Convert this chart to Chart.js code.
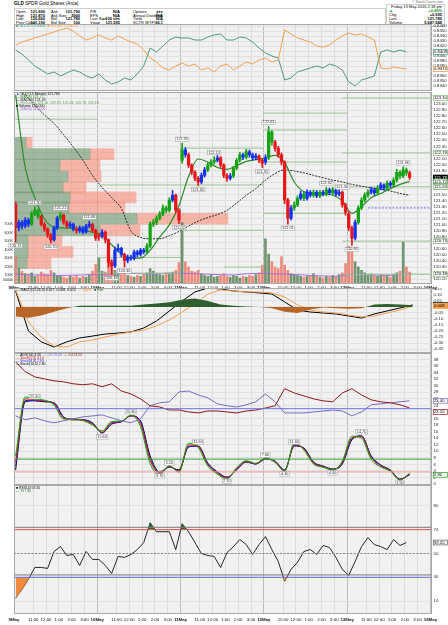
<!DOCTYPE html>
<html><head><meta charset="utf-8"><title>GLD SPDR Gold Shares</title>
<script src="https://cdn.jsdelivr.net/npm/chart.js"></script>
<style>
html,body{margin:0;padding:0;background:#fff;}
body{width:448px;height:625px;position:relative;overflow:hidden;font-family:"Liberation Sans",Arial,sans-serif;color:#000;}
canvas{position:absolute;left:0;}
.t{position:absolute;font-size:4px;line-height:4px;white-space:nowrap;}
.v{font-weight:bold;}
.box{position:absolute;border:1px solid #cfcfcf;background:#fff;}
</style></head><body>
<div class="t" style="left:14px;top:1px;font-size:4.6px;line-height:5px"><b>GLD</b> SPDR Gold Shares (Arca)</div>
<div class="box" style="left:14px;top:8px;width:370px;height:15px;"></div>
<div class="t" style="left:16px;top:9.6px">Open</div><div class="t v" style="right:403px;top:9.6px">121.690</div>
<div class="t" style="left:16px;top:13.5px">High</div><div class="t v" style="right:403px;top:13.5px">121.870</div>
<div class="t" style="left:16px;top:17.4px">Low</div><div class="t v" style="right:403px;top:17.4px">120.660</div>
<div class="t" style="left:16px;top:21.3px">Prev Close</div><div class="t v" style="right:403px;top:21.3px">121.190</div>
<div class="t" style="left:51px;top:9.6px">Ask</div><div class="t v" style="right:368px;top:9.6px">121.790</div>
<div class="t" style="left:51px;top:13.5px">Ask Size</div><div class="t v" style="right:368px;top:13.5px">3900</div>
<div class="t" style="left:51px;top:17.4px">Bid</div><div class="t v" style="right:368px;top:17.4px">121.780</div>
<div class="t" style="left:51px;top:21.3px">Bid Size</div><div class="t v" style="right:368px;top:21.3px">100</div>
<div class="t" style="left:90px;top:9.6px">P/E</div><div class="t v" style="right:328px;top:9.6px">N/A</div>
<div class="t" style="left:90px;top:13.5px">EPS</div><div class="t v" style="right:328px;top:13.5px">N/A</div>
<div class="t" style="left:90px;top:17.4px">Last Size</div><div class="t v" style="right:328px;top:17.4px"><span style="color:#1a9a1a">&#9650;</span>100 shs</div>
<div class="t" style="left:90px;top:21.3px">Vwap</div><div class="t v" style="right:328px;top:21.3px">121.595</div>
<div class="t" style="left:133px;top:9.6px">Options</div><div class="t v" style="right:285px;top:9.6px">yes</div>
<div class="t" style="left:133px;top:13.5px">Annual Dividend</div><div class="t v" style="right:285px;top:13.5px">N/A</div>
<div class="t" style="left:133px;top:17.4px">Yield</div><div class="t v" style="right:285px;top:17.4px">N/A</div>
<div class="t" style="left:133px;top:21.3px">SCTR (ETF)</div><div class="t v" style="right:285px;top:21.3px">96.1</div>
<div class="t" style="right:5px;top:0px;font-size:3.6px;color:#777">&copy; StockCharts.com</div>
<div class="box" style="left:386px;top:4px;width:57px;height:21px;"></div>
<div class="t" style="right:6px;top:5px">Friday 13 May 2016 2:18 pm</div>
<div class="t" style="left:389px;top:9.4px;color:#1a9a1a">&#9650;</div><div class="t v" style="right:6px;top:9.4px;color:#1a9a1a">+0.49%</div>
<div class="t" style="left:389px;top:13.3px">Chg</div><div class="t v" style="right:6px;top:13.3px">+0.595</div>
<div class="t" style="left:389px;top:17.2px">Last</div><div class="t v" style="right:6px;top:17.2px">121.785</div>
<div class="t" style="left:389px;top:21.1px">Volume</div><div class="t v" style="right:6px;top:21.1px">5,687,548</div>

<canvas id="cTop" width="448" height="67" style="top:24px"></canvas>
<canvas id="cMain" width="448" height="198" style="top:92px"></canvas>
<canvas id="cMacd" width="448" height="65" style="top:288px"></canvas>
<canvas id="cDmi" width="448" height="132" style="top:353px"></canvas>
<canvas id="cRsi" width="448" height="139" style="top:485px"></canvas>

<script>
// ---------------- DATA ----------------
const dayLabels = ['9May','10May','11May','12May','13May','16May'];
const hourLabels = ['11:00','12:00','1:00','2:00','3:00'];
const hourValues = [11,12,13,14,15];
const OPEN_HOUR = 9.5, BARS_PER_HOUR = 4, BARS_PER_DAY = 26, X_MAX = 130.5;

// 15-minute OHLC bars, 9 May - 13 May 2016
const O = [121.34,120.95,121.04,120.98,121.08,121.01,121.18,121.24,121.14,121.01,120.93,120.83,120.75,120.95,121.11,121.16,121.04,120.98,121.01,120.93,120.90,120.95,120.88,120.98,121.01,120.91,
120.80,120.81,120.88,120.75,120.38,120.32,120.58,120.61,120.51,120.41,120.46,120.45,120.55,120.51,120.58,120.55,120.65,121.01,121.04,121.11,121.18,121.28,121.24,121.41,121.49,121.24,
122.07,122.24,122.16,121.99,121.87,121.77,121.71,121.82,121.91,121.99,122.04,122.07,122.11,121.99,121.82,121.77,121.81,121.94,122.07,122.16,122.12,122.21,122.16,122.11,122.14,122.07,
122.04,122.11,122.54,122.37,122.27,122.16,122.04,121.41,121.11,121.28,121.33,121.44,121.51,121.44,121.54,121.49,121.54,121.48,121.54,121.51,121.58,121.53,121.58,121.51,121.54,121.33,
121.18,120.95,120.78,121.04,121.28,121.41,121.49,121.54,121.58,121.53,121.61,121.66,121.61,121.69,121.66,121.74,121.87,121.81,121.91,121.86];
const H = [121.38,121.08,121.07,121.12,121.11,121.22,121.30,121.26,121.16,121.04,120.95,120.86,120.98,121.14,121.21,121.18,121.07,121.05,121.03,120.97,120.98,120.97,121.01,121.06,121.03,120.93,
120.86,120.92,120.90,120.77,120.42,120.63,120.68,120.63,120.53,120.50,120.50,120.58,120.58,120.61,120.61,120.69,121.05,121.09,121.15,121.22,121.33,121.31,121.45,121.57,121.51,121.27,
122.35,122.28,122.19,122.01,121.90,121.80,121.86,121.95,122.03,122.08,122.13,122.15,122.13,122.01,121.85,121.85,121.97,122.10,122.20,122.19,122.25,122.24,122.19,122.18,122.16,122.09,
122.16,122.63,122.56,122.40,122.30,122.19,122.06,121.44,121.32,121.38,121.48,121.56,121.54,121.58,121.57,121.58,121.57,121.57,121.57,121.62,121.61,121.62,121.60,121.58,121.56,121.36,
121.22,120.98,121.08,121.32,121.45,121.53,121.58,121.62,121.61,121.65,121.70,121.68,121.73,121.72,121.78,121.92,121.90,121.96,121.94,121.89];
const L = [120.72,120.90,120.93,120.95,120.97,120.99,121.15,121.10,120.98,120.89,120.79,120.70,120.73,120.92,121.07,121.01,120.94,120.95,120.90,120.86,120.87,120.85,120.86,120.95,120.88,120.74,
120.74,120.78,120.70,120.30,120.18,120.29,120.55,120.47,120.30,120.37,120.41,120.42,120.47,120.48,120.52,120.52,120.62,120.97,121.00,121.08,121.15,121.20,121.21,121.38,121.20,121.02,
122.02,122.12,121.95,121.83,121.73,121.65,121.68,121.79,121.88,121.96,122.01,122.04,121.95,121.78,121.72,121.74,121.78,121.91,122.04,122.08,122.09,122.12,122.07,122.08,122.03,121.95,
122.00,122.08,122.32,122.22,122.12,121.99,121.35,121.01,121.08,121.24,121.30,121.41,121.40,121.41,121.46,121.46,121.45,121.45,121.48,121.48,121.50,121.50,121.48,121.48,121.29,121.16,
120.90,120.66,120.75,121.01,121.25,121.38,121.46,121.51,121.49,121.50,121.58,121.57,121.58,121.62,121.63,121.71,121.77,121.78,121.82,121.75];
const C = [120.95,121.04,120.98,121.08,121.01,121.18,121.24,121.14,121.01,120.93,120.83,120.75,120.95,121.11,121.16,121.04,120.98,121.01,120.93,120.90,120.95,120.88,120.98,121.01,120.91,120.78,
120.81,120.88,120.75,120.38,120.32,120.58,120.61,120.51,120.41,120.46,120.45,120.55,120.51,120.58,120.55,120.65,121.01,121.04,121.11,121.18,121.28,121.24,121.41,121.49,121.24,121.08,
122.24,122.16,121.99,121.87,121.77,121.71,121.82,121.91,121.99,122.04,122.07,122.11,121.99,121.82,121.77,121.81,121.94,122.07,122.16,122.12,122.21,122.16,122.11,122.14,122.07,122.02,
122.11,122.54,122.37,122.27,122.16,122.04,121.41,121.11,121.28,121.33,121.44,121.51,121.44,121.54,121.49,121.54,121.48,121.54,121.51,121.58,121.53,121.58,121.51,121.54,121.33,121.21,
120.95,120.78,121.04,121.28,121.41,121.49,121.54,121.58,121.53,121.61,121.66,121.61,121.69,121.66,121.74,121.87,121.81,121.91,121.86,121.785];
// bar colouring (g = green, r = red, b = blue)
const impulse = 'rbbbbgggrrrrbbgrrbbrbbbbrr' + 'rbrrrbbbrbbbbbbggggggggbrr' + 'gbrrrrbbgggbrrrbgggbgbbbrr' + 'bggrrrrrbggbgbbgbgbgbgbbrr' + 'rrbggggbbgbbgbgggggr';
// volume per bar, thousands of shares
const vol = [320,180,150,120,110,130,90,100,140,120,110,160,130,100,90,80,70,90,80,100,70,90,80,110,150,230,
300,150,140,260,280,160,120,110,130,100,90,80,100,90,110,130,180,150,120,110,100,130,120,140,160,250,
720,260,200,150,140,160,120,100,90,110,80,90,100,120,90,80,100,90,70,90,80,100,90,110,130,220,
530,350,260,200,180,320,220,160,120,110,100,90,80,90,100,120,90,80,70,90,80,100,90,110,130,240,
440,380,260,200,160,130,110,120,100,90,110,100,90,80,110,130,150,490,200,140];
const VOLMA_STEP = 4;
const volMA = [115,110,105,100,100,105,110,115,120,125,120,115,130,125,120,115,110,105,120,125,120,115,110,100,95,90,110,115,105,100,110,115];
const volTicks = [50000,100000,200000,300000,400000,500000,600000,700000];
// volume-by-price profile
const profPrice = [122.36,122.17,121.99,121.80,121.62,121.455,121.285,121.10,120.91,120.74,120.55,120.365];
const profUp    = [120,760,460,540,490,560,550,1230,860,140,140,130];
const profDown  = [60,240,400,330,230,660,560,910,400,340,450,240];
// moving averages (every 3 bars)
const MA_STEP = 3;
const maFast = [123.15,121.95,121.45,121.10,120.96,120.95,120.94,120.91,120.88,120.83,120.67,120.52,120.45,120.45,120.58,120.80,121.00,121.32,121.80,122.09,122.04,121.95,121.92,121.98,122.05,122.08,122.11,122.15,122.03,121.71,121.55,121.52,121.51,121.49,121.40,121.19,121.30,121.45,121.52,121.60,121.67,121.72];
const maSlow = [null,123.16,122.98,122.82,122.68,122.49,122.29,122.07,121.82,121.62,121.45,121.27,120.90,120.79,120.77,120.77,120.82,120.89,120.98,121.06,121.12,121.17,121.24,121.36,121.49,121.60,121.74,121.85,121.91,121.89,121.86,121.82,121.78,121.74,121.71,121.67,121.64,121.61,121.59,121.56,121.52,121.49];
// horizontal price levels: start bar, end bar, price
const levelX0 =    [0,27,52,52,65.5,78,78,78,78,102.5,102.5,102.5,102.5,102.5,26,26];
const levelX1 =    [26,78,78,78,78,104,104,104,104,130.5,130.5,130.5,130.5,130.5,52,52];
const levelPrice = [122.75,121.66,122.27,120.91,120.30,122.85,122.57,122.04,121.19,123.10,122.19,121.63,120.73,120.18,120.46,120.20];
const dashLevel = {x0:110.5, x1:130.5, price:121.28};
const priceMarks = [[0,'L'],[6,'H'],[11,'L'],[14,'H'],[23,'H'],[30,'L'],[34,'L'],[51,'L'],[52,'H'],[57,'L'],[62,'H'],[77,'L'],[79,'H'],[85,'L'],[97,'H'],[102,'H'],[105,'L'],[121,'H']];
const priceTicks = [120.10,120.20,120.30,120.40,120.50,120.60,120.70,120.80,120.90,121.00,121.10,121.20,121.30,121.40,121.50,121.60,121.70,121.80,121.90,122.00,122.10,122.20,122.30,122.40,122.50,122.60,122.70,122.80,122.90,123.00,123.10];

// relative strength lines (every 2 bars)
const REL_STEP = 2;
const relOrange = [0.8422,0.8428,0.8432,0.8436,0.8440,0.8444,0.8448,0.8452,0.8456,0.8450,0.8440,0.8432,0.8436,0.8442,0.8436,0.8432,0.8440,0.8434,0.8428,0.8424,0.8412,
0.8396,0.8388,0.8376,0.8372,0.8380,0.8386,0.8380,0.8384,0.8372,0.8376,0.8368,0.8380,0.8384,0.8372,0.8380,0.8388,0.8384,0.8392,0.8396,0.8388,0.8392,
0.8452,0.8444,0.8436,0.8432,0.8428,0.8420,0.8418,0.8422,0.8432,0.8440,0.8446,0.8442,0.8444,0.8438,0.8432,
0.8376,0.8374,0.8378,0.8376,0.8374];
const relGreen = [0.8412,0.8404,0.8392,0.8380,0.8372,0.8364,0.8368,0.8360,0.8366,0.8372,0.8368,0.8360,0.8356,0.8364,0.8352,0.8344,0.8348,0.8356,0.8352,0.8364,0.8380,
0.8416,0.8408,0.8420,0.8432,0.8438,0.8436,0.8436,0.8432,0.8432,0.8438,0.8442,0.8444,0.8432,0.8432,0.8438,0.8436,0.8428,0.8416,0.8406,0.8400,0.8396,
0.8352,0.8356,0.8368,0.8372,0.8376,0.8380,0.8376,0.8384,0.8380,0.8372,0.8348,0.8340,0.8352,0.8356,0.8360,
0.8408,0.8412,0.8408,0.8412,0.8408];
const relTicks = [0.8340,0.8350,0.8360,0.8370,0.8380,0.8390,0.8400,0.8410,0.8420,0.8430,0.8440,0.8450,0.8460];

// MACD (every 4 bars)
const MACD_STEP = 4;
const macdLine = [0.133,-0.20,-0.29,-0.333,-0.29,-0.258,-0.242,-0.225,-0.217,-0.208,-0.175,-0.117,-0.033,0.05,0.125,0.158,0.15,0.133,0.125,0.117,0.108,0.042,-0.025,-0.042,-0.05,-0.058,-0.075,-0.092,-0.058,-0.033,-0.008,0.017];
const macdSignal = [0.142,-0.125,-0.25,-0.325,-0.333,-0.29,-0.275,-0.25,-0.225,-0.208,-0.192,-0.158,-0.108,-0.042,0.025,0.108,0.142,0.133,0.125,0.125,0.117,0.083,0.017,-0.025,-0.042,-0.05,-0.067,-0.083,-0.075,-0.05,-0.025,0.008];
const macdHist = [-0.08,-0.09,-0.07,-0.04,-0.01,0.01,0.01,0.01,0.01,0.01,0.02,0.03,0.04,0.06,0.07,0.05,0.02,0.01,0.005,0,-0.01,-0.04,-0.05,-0.02,-0.005,-0.01,-0.015,-0.01,0.02,0.025,0.02,0.015];
const macdTicks = [0.15,0.10,0.05,0,-0.05,-0.10,-0.15,-0.20,-0.25,-0.30,-0.35];

// DMI + stochastic ribbon (every 3 bars)
const DMI_STEP = 3;
const diMinus = [37.3,34.3,32.7,32.1,31.5,31.2,30.6,30.3,30.6,29.7,30.6,28.4,27.5,26.0,23.9,23.5,22.6,22.6,22.0,21.7,22.3,22.3,22.0,21.7,22.3,22.6,23.2,23.9,29.1,27.8,26.9,26.0,25.4,25.1,27.8,29.1,27.2,25.7,25.1,24.8,24.2,23.2];
const diPlus = [20.8,19.6,20.2,19.3,18.7,19.3,19.9,20.5,20.8,21.1,20.2,19.3,18.7,19.9,23.9,24.8,25.1,28.1,28.4,27.2,26.3,24.5,23.9,23.5,24.2,25.1,27.5,25.1,21.7,21.7,21.7,22.0,22.3,22.6,22.3,20.8,22.0,24.2,24.5,24.8,25.1,25.4];
const stochG = [8.5,26.6,25.9,25.6,24.1,19.8,19.9,19.4,18.0,16.2,19.1,19.2,21.0,17.5,6.2,2.9,5.6,3.6,12.4,11.1,5.5,3.0,1.5,5.0,7.1,6.3,8.0,6.6,3.9,12.5,10.4,6.1,5.1,4.3,7.0,14.6,14.0,7.6,5.2,3.9,1.2,3.3];
const stochR = [6.8,26.0,25.7,25.4,24.5,20.1,19.8,19.5,18.3,15.8,18.8,19.1,20.9,18.4,7.3,3.3,5.4,3.9,11.9,11.4,5.9,3.3,1.8,4.7,6.9,6.2,7.8,6.8,4.1,12.1,10.7,6.4,5.3,4.4,6.6,14.1,14.4,8.1,5.5,4.1,1.3,3.1];
const stochB = [5.5,25.5,25.5,25.2,24.7,20.4,19.7,19.6,18.5,15.6,18.5,19.0,20.8,19.0,7.9,3.5,5.3,4.1,11.5,11.5,6.2,3.5,2.0,4.5,6.8,6.1,7.7,6.9,4.2,11.8,10.9,6.6,5.4,4.5,6.3,13.8,14.6,8.4,5.7,4.2,1.4,2.9];
const stochK = [4.3,25.1,25.4,25.1,24.8,20.5,19.6,19.6,18.7,15.6,18.3,19.0,20.8,19.3,8.6,3.7,5.2,4.3,11.3,11.6,6.4,3.7,2.1,4.3,6.7,6.1,7.6,7.0,4.3,11.6,11.0,6.7,5.5,4.6,6.1,13.5,14.7,8.6,5.8,4.3,1.5,2.8];
const dmiLevels = [23, 7.6, 3.7];
const ribbonMarks = [[2,'H'],[9,'L'],[12,'H'],[15,'L'],[16,'H'],[19,'H'],[22,'L'],[26,'H'],[28,'L'],[29,'H'],[33,'L'],[36,'H'],[40,'L']];
const dmiTicks = [0,2,4,6,8,10,12,14,16,18,20,22,24,26,28,30,32,34,36,38];

// RSI (every 2 bars)
const RSI_STEP = 2;
const rsi = [12.5,20.0,28.3,38.3,38.3,37.5,51.7,55.8,48.3,49.2,40.0,51.7,45.0,45.0,40.0,33.3,47.5,46.7,49.2,53.3,59.2,75.8,68.3,68.3,68.3,53.3,75.0,68.3,59.2,50.0,48.3,47.5,38.3,50.8,55.8,61.7,57.5,49.2,57.5,64.2,53.3,43.3,26.7,36.7,42.5,51.7,53.3,49.2,56.7,55.0,46.7,36.7,31.7,43.3,55.8,63.3,57.5,55.8,53.3,61.7,56.7,59.2];
const rsiLevels = [72,70,50,32,30];
const rsiTicks = [10,30,50,70,90];

// ---------------- HELPERS ----------------
const FONT = '"Liberation Sans", Arial, sans-serif';
Chart.defaults.font.family = FONT;
Chart.defaults.font.size = 5;
Chart.defaults.color = '#222';
Chart.defaults.animation = false;
Chart.defaults.events = [];
Chart.defaults.responsive = false;
Chart.defaults.maintainAspectRatio = false;
Chart.defaults.plugins.legend.display = false;
Chart.defaults.plugins.tooltip.enabled = false;
Chart.defaults.elements.point.radius = 0;
Chart.defaults.elements.line.borderWidth = 1;

const xTicks = [];
dayLabels.forEach((d, i) => {
  xTicks.push({v: i * BARS_PER_DAY, l: d, day: true});
  if (i < dayLabels.length - 1) hourValues.forEach((h, j) => xTicks.push({v: i * BARS_PER_DAY + (h - OPEN_HOUR) * BARS_PER_HOUR, l: hourLabels[j], day: false}));
});
xTicks.sort((a, b) => a.v - b.v);
const isDay = i => xTicks[i] && xTicks[i].day;

function mkX(show, h, pad) {
  return {type: 'linear', min: 0, max: X_MAX, offset: false,
    afterBuildTicks(s) { s.ticks = xTicks.map(t => ({value: t.v})); },
    afterFit(s) { s.height = show ? h : 0; s.paddingLeft = 0; s.paddingRight = 0; },
    ticks: {display: show, autoSkip: false, maxRotation: 0, minRotation: 0, padding: pad || 1, color: '#111',
      font: c => ({size: 4.4, family: FONT, weight: isDay(c.index) ? 'bold' : 'normal'}),
      callback: (v, i) => xTicks[i] ? xTicks[i].l : ''},
    grid: {offset: false, drawTicks: false, lineWidth: 1, color: c => isDay(c.index) ? '#bdbdbd' : '#dcdcdc'},
    border: {display: false}};
}
function mkY(min, max, arr, fmt) {
  return {type: 'linear', position: 'right', min, max, offset: false, stacked: false,
    afterBuildTicks(s) { s.ticks = arr.map(v => ({value: v})); },
    afterFit(s) { s.width = 16; s.paddingTop = 0; s.paddingBottom = 0; },
    ticks: {autoSkip: false, padding: 1.5, color: '#222', font: {size: 4.3, family: FONT}, callback: v => fmt(v)},
    grid: {offset: false, drawTicks: false, color: '#e1e1e1'},
    border: {display: false}};
}
const bgPlugin = {id: 'bgp',
  beforeDraw(c) { const a = c.chartArea, x = c.ctx; x.save(); x.fillStyle = '#f1f1f1'; x.fillRect(a.left, a.top, a.width, a.height); x.restore(); },
  afterDraw(c) { const a = c.chartArea, x = c.ctx; x.save(); x.strokeStyle = '#a9a9a9'; x.lineWidth = 1; x.strokeRect(a.left + 0.5, a.top + 0.5, a.width - 1, a.height - 1); x.restore(); }};
function mkTxt(lines, top, step, size) {
  return {id: 'txt', afterDraw(c) {
    const x = c.ctx, a = c.chartArea; x.save(); x.textBaseline = 'middle'; x.font = size + 'px ' + FONT;
    lines.forEach((segs, k) => { let px = a.left + 2; const py = a.top + top + k * step;
      segs.forEach(([col, t]) => { x.fillStyle = col; x.fillText(t, px, py); px += x.measureText(t).width; }); });
    x.restore(); }};
}
function mkMarks(items, xId, yId) {
  return {id: 'marks', afterDatasetsDraw(c) {
    const x = c.ctx, xs = c.scales[xId], ys = c.scales[yId]; x.save();
    x.font = '3.8px ' + FONT; x.textBaseline = 'middle'; x.textAlign = 'center';
    items.forEach(it => { const px = xs.getPixelForValue(it.x), py = ys.getPixelForValue(it.y) + (it.below ? 4 : -4);
      const w = x.measureText(it.t).width + 2;
      x.fillStyle = 'rgba(255,255,255,0.9)'; x.fillRect(px - w / 2, py - 2.2, w, 4.4);
      x.strokeStyle = '#9a9a9a'; x.lineWidth = 0.5; x.strokeRect(px - w / 2, py - 2.2, w, 4.4);
      x.fillStyle = '#333'; x.fillText(it.t, px, py); });
    x.restore(); }};
}
function mkBoxes(items, yId) {
  return {id: 'rbox', afterDraw(c) {
    const x = c.ctx, ys = c.scales[yId], a = c.chartArea; x.save();
    x.font = '4.2px ' + FONT; x.textBaseline = 'middle'; x.textAlign = 'left';
    items.forEach(it => { const py = ys.getPixelForValue(it.v);
      x.fillStyle = it.bg; x.fillRect(a.right + 1, py - 2.4, 14.5, 4.8);
      x.strokeStyle = it.bd; x.lineWidth = 0.7; x.strokeRect(a.right + 1.3, py - 2.4, 14, 4.8);
      x.fillStyle = it.fg; x.fillText(it.t, a.right + 2, py); });
    x.restore(); }};
}
const pts = (arr, step) => arr.map((v, k) => ({x: k * step + 0.5, y: v}));
const flatLine = v => [{x: 0, y: v}, {x: X_MAX, y: v}];
const last = a => a[a.length - 1];

// ---------------- TOP PANEL ----------------
new Chart(document.getElementById('cTop'), {
  type: 'line',
  data: {datasets: [
    {data: pts(relOrange, REL_STEP), borderColor: '#f4a04e', borderWidth: 1},
    {data: pts(relGreen, REL_STEP), borderColor: '#4d9a7c', borderWidth: 1}]},
  options: {layout: {padding: {left: 14, right: 0, top: 0, bottom: 0}},
    scales: {x: mkX(false, 0), y: mkY(0.8330, 0.8464, relTicks, v => v.toFixed(4))}},
  plugins: [bgPlugin,
    mkTxt([[['#4d9a7c', '\u25A0 GLD:VTI ' + last(relGreen).toFixed(4) + '  '], ['#f4a04e', '\u25A0 GLD:SPY ' + last(relOrange).toFixed(4)]]], 2.2, 3, 3.6),
    mkBoxes([{v: last(relGreen), t: last(relGreen).toFixed(4), bg: '#fff', fg: '#000', bd: '#4d9a7c'},
             {v: last(relOrange), t: last(relOrange).toFixed(4), bg: '#fff', fg: '#000', bd: '#f4a04e'}], 'y')]
});

// ---------------- MAIN PRICE PANEL ----------------
const candleCol = {g: '#15a215', r: '#e8151b', b: '#1432ee'};
const colAt = c => candleCol[impulse[c.dataIndex]] || '#000';
const levelData = [];
levelPrice.forEach((p, i) => { levelData.push({x: levelX0[i], y: p}, {x: levelX1[i], y: p}, {x: levelX1[i], y: null}); });
const VOL_AXIS_MAX = 2250000, PROFILE_MAX = 4180;
const lastC = last(C);
const mainBoxes = [{v: lastC, t: lastC.toFixed(2), bg: '#000', fg: '#fff', bd: '#000'},
  {v: last(maFast), t: last(maFast).toFixed(2), bg: '#fff', fg: '#000', bd: '#2b8a2b'}];
levelPrice.forEach((p, i) => { if (levelX1[i] >= X_MAX) mainBoxes.push({v: p, t: p.toFixed(2), bg: '#fff', fg: '#000', bd: '#7fb06f'}); });

new Chart(document.getElementById('cMain'), {
  type: 'bar',
  data: {datasets: [
    {type: 'bar', indexAxis: 'y', xAxisID: 'xp', yAxisID: 'y', stack: 'prof', grouped: false, barThickness: 11, order: 10,
     data: profPrice.map((p, i) => ({x: profUp[i], y: p})), backgroundColor: 'rgba(110,148,110,0.62)'},
    {type: 'bar', indexAxis: 'y', xAxisID: 'xp', yAxisID: 'y', stack: 'prof', grouped: false, barThickness: 11, order: 10,
     data: profPrice.map((p, i) => ({x: profDown[i], y: p})), backgroundColor: 'rgba(248,140,118,0.58)'},
    {type: 'bar', xAxisID: 'x', yAxisID: 'yv', grouped: false, barThickness: 2, order: 9,
     data: vol.map((v, i) => ({x: i + 0.5, y: v * 1000})),
     backgroundColor: c => C[c.dataIndex] >= O[c.dataIndex] ? 'rgba(70,118,70,0.75)' : 'rgba(240,112,96,0.8)'},
    {type: 'line', xAxisID: 'x', yAxisID: 'yv', order: 8, borderColor: '#a56fd8', borderWidth: 1,
     data: volMA.map((v, k) => ({x: k * VOLMA_STEP + 0.5, y: v * 1000}))},
    {type: 'line', xAxisID: 'x', yAxisID: 'y', order: 7, borderColor: '#9cc492', borderWidth: 1, spanGaps: false, data: levelData},
    {type: 'line', xAxisID: 'x', yAxisID: 'y', order: 7, borderColor: '#6b6bf0', borderWidth: 1, borderDash: [2, 1.5],
     data: [{x: dashLevel.x0, y: dashLevel.price}, {x: dashLevel.x1, y: dashLevel.price}]},
    {type: 'line', xAxisID: 'x', yAxisID: 'y', order: 4, borderColor: '#2a2a2a', borderWidth: 1, borderDash: [2, 1.2], spanGaps: true,
     cubicInterpolationMode: 'monotone', data: pts(maSlow, MA_STEP)},
    {type: 'line', xAxisID: 'x', yAxisID: 'y', order: 3, borderColor: '#2b8a2b', borderWidth: 1.2,
     cubicInterpolationMode: 'monotone', data: pts(maFast, MA_STEP)},
    {type: 'bar', xAxisID: 'x', yAxisID: 'y', grouped: false, barThickness: 1, order: 2,
     data: H.map((h, i) => ({x: i + 0.5, y: [L[i], h]})), backgroundColor: colAt},
    {type: 'bar', xAxisID: 'x', yAxisID: 'y', grouped: false, barThickness: 2.6, minBarLength: 1, order: 1,
     data: O.map((o, i) => ({x: i + 0.5, y: [o, C[i]]})), backgroundColor: colAt}]},
  options: {layout: {padding: {left: 0, right: 0, top: 0, bottom: 0}},
    scales: {
      x: mkX(true, 6, 1),
      xp: {type: 'linear', axis: 'x', display: false, min: 0, max: PROFILE_MAX, stacked: true, offset: false, grid: {display: false, offset: false}},
      y: mkY(120.02, 123.2, priceTicks, v => v.toFixed(2)),
      yv: {type: 'linear', position: 'left', min: 0, max: VOL_AXIS_MAX, offset: false, stacked: false,
        afterBuildTicks(s) { s.ticks = volTicks.map(v => ({value: v})); },
        afterFit(s) { s.width = 14; s.paddingTop = 0; s.paddingBottom = 0; },
        ticks: {autoSkip: false, padding: 1, color: '#222', font: {size: 3.6, family: FONT},
          callback: v => v >= 100000 ? (v / 1000) + 'K' : String(v)},
        grid: {display: false, drawTicks: false, offset: false}, border: {display: false}}}},
  plugins: [bgPlugin,
    mkMarks(priceMarks.map(([i, t]) => ({x: i + 0.5, y: t === 'H' ? H[i] : L[i], below: t === 'L', t: (t === 'H' ? H[i] : L[i]).toFixed(2)})), 'x', 'y'),
    mkTxt([
      [['#1432ee', '\u25B2 '], ['#000', 'GLD (15 Minute) ' + lastC.toFixed(3)]],
      [['#2b8a2b', '\u2014 MA(20) ' + last(maFast).toFixed(2)]],
      [['#2a2a2a', '--- MA(200) ' + last(maSlow).toFixed(2)]],
      [['#5f9a55', '\u2014 Fib Levels ' + levelPrice.slice(9, 14).map(v => v.toFixed(2)).join(', ')]],
      [['#000', '\u25A0 Volume ' + (last(vol) * 1000).toLocaleString('en-US')]],
      [['#a56fd8', '\u2014 MA(50) ' + (last(volMA) * 1000).toLocaleString('en-US')]]], 2.4, 3, 3.5),
    mkBoxes(mainBoxes, 'y')]
});

// ---------------- MACD ----------------
new Chart(document.getElementById('cMacd'), {
  type: 'line',
  data: {datasets: [
    {data: pts(macdHist, MACD_STEP), borderWidth: 0, borderColor: 'rgba(0,0,0,0)', fill: {target: 'origin', above: '#2f5f2f', below: '#b8652a'}},
    {data: pts(macdSignal, MACD_STEP), borderColor: '#f4a04e', borderWidth: 1},
    {data: pts(macdLine, MACD_STEP), borderColor: '#000', borderWidth: 1}]},
  options: {layout: {padding: {left: 14, right: 0, top: 0, bottom: 0}},
    scales: {x: mkX(false, 0), y: mkY(-0.383, 0.158, macdTicks, v => v.toFixed(2))}},
  plugins: [bgPlugin,
    mkTxt([[['#000', '\u2014 MACD(12,26,9) ' + last(macdLine).toFixed(3) + ', ' + last(macdSignal).toFixed(3) + ', ' + last(macdHist).toFixed(3) + '  '],
            ['#f4a04e', '\u2014 Signal  '], ['#2f5f2f', '\u25A0 Hist']]], 2.3, 3, 3.5),
    mkBoxes([{v: last(macdLine), t: last(macdLine).toFixed(3), bg: '#fff', fg: '#000', bd: '#000'},
             {v: last(macdSignal), t: last(macdSignal).toFixed(3), bg: '#f4a04e', fg: '#000', bd: '#f4a04e'}], 'y')]
});

// ---------------- DMI + STOCH RIBBON ----------------
const dmiLevelCols = ['#7070e6', '#3aa03a', '#f29a9a'];
new Chart(document.getElementById('cDmi'), {
  type: 'line',
  data: {datasets: [
    ...dmiLevels.map((v, i) => ({data: flatLine(v), borderColor: dmiLevelCols[i], borderWidth: 1})),
    {data: pts(diMinus, DMI_STEP), borderColor: '#8e1b1b', borderWidth: 1},
    {data: pts(diPlus, DMI_STEP), borderColor: '#7b6bcc', borderWidth: 1},
    {data: pts(stochG, DMI_STEP), borderColor: '#11a011', borderWidth: 1, cubicInterpolationMode: 'monotone'},
    {data: pts(stochR, DMI_STEP), borderColor: '#e01010', borderWidth: 1, cubicInterpolationMode: 'monotone'},
    {data: pts(stochB, DMI_STEP), borderColor: '#2424dd', borderWidth: 1, cubicInterpolationMode: 'monotone'},
    {data: pts(stochK, DMI_STEP), borderColor: '#000', borderWidth: 1, cubicInterpolationMode: 'monotone'}]},
  options: {layout: {padding: {left: 14, right: 0, top: 0, bottom: 0}},
    scales: {x: mkX(false, 0), y: mkY(-0.3, 40, dmiTicks, v => String(v))}},
  plugins: [bgPlugin,
    mkMarks(ribbonMarks.map(([k, t]) => ({x: k * DMI_STEP + 0.5, y: stochK[k], below: t === 'L', t: stochK[k].toFixed(2)})), 'x', 'y'),
    mkTxt([
      [['#11a011', '\u2014 '], ['#000', 'ADX(14) ' + last(stochG).toFixed(2) + '  '], ['#7b6bcc', '\u2014 +DI ' + last(diPlus).toFixed(2) + '  '], ['#8e1b1b', '\u2014 -DI ' + last(diMinus).toFixed(2)]],
      [['#e01010', '\u2014 Stoch(5,3) ' + last(stochR).toFixed(2)]],
      [['#2424dd', '\u2014 Stoch(8,3) ' + last(stochB).toFixed(2)]],
      [['#000', '\u2014 Stoch(14,3) ' + last(stochK).toFixed(2)]]], 2.2, 3, 3.4),
    mkBoxes([{v: last(diPlus), t: last(diPlus).toFixed(2), bg: '#fff', fg: '#000', bd: '#7b6bcc'},
             {v: last(diMinus) - 1.2, t: last(diMinus).toFixed(2), bg: '#fff', fg: '#000', bd: '#8e1b1b'},
             {v: last(stochK), t: last(stochK).toFixed(2), bg: '#fff', fg: '#000', bd: '#11a011'}], 'y')]
});

// ---------------- RSI ----------------
const rsiLevelCols = ['#7a7a7a', '#e35050', '#8a8a8a', '#7a7a7a', '#6a6ad8'];
new Chart(document.getElementById('cRsi'), {
  type: 'line',
  data: {datasets: [
    ...rsiLevels.map((v, i) => ({data: flatLine(v), borderColor: rsiLevelCols[i], borderWidth: 1, borderDash: v === 50 ? [2, 1.5] : []})),
    {data: pts(rsi, RSI_STEP), borderWidth: 0, borderColor: 'rgba(0,0,0,0)', fill: {target: {value: 70}, above: '#2f6b2f', below: 'rgba(0,0,0,0)'}},
    {data: pts(rsi, RSI_STEP), borderWidth: 0, borderColor: 'rgba(0,0,0,0)', fill: {target: {value: 30}, above: 'rgba(0,0,0,0)', below: '#f08a3c'}},
    {data: pts(rsi, RSI_STEP), borderColor: '#111', borderWidth: 0.9}]},
  options: {layout: {padding: {left: 14, right: 0, top: 0, bottom: 0}},
    scales: {x: mkX(true, 10, 3), y: mkY(-0.8, 107.5, rsiTicks, v => String(v))}},
  plugins: [bgPlugin,
    mkTxt([[['#000', '\u25A0 RSI(14) ' + last(rsi).toFixed(2)]], [['#2f6b2f', '\u2014 70 / 30']]], 3.5, 2.9, 3.4),
    mkBoxes([{v: last(rsi), t: last(rsi).toFixed(2), bg: '#fff', fg: '#000', bd: '#555'}], 'y')]
});
</script>
</body></html>
